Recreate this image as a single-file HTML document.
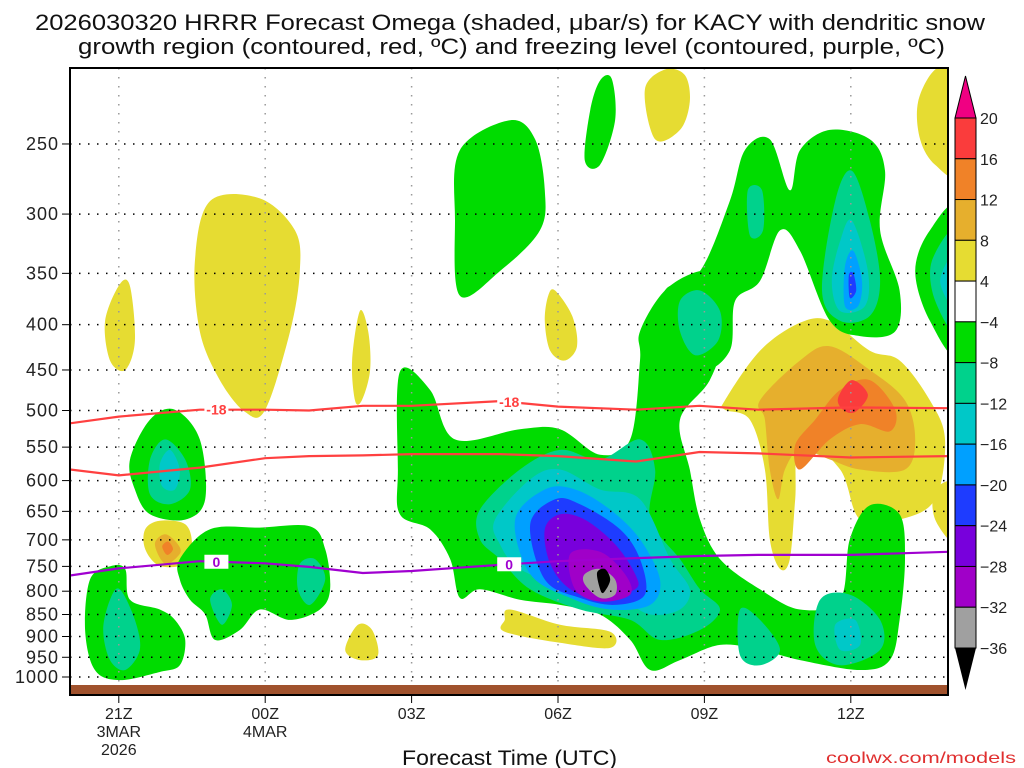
<!DOCTYPE html>
<html><head><meta charset="utf-8"><style>
body{margin:0;background:#fff;}
svg{display:block;font-family:"Liberation Sans",sans-serif;}
</style></head><body>
<svg id="chart" width="1024" height="768" viewBox="0 0 1024 768" xmlns="http://www.w3.org/2000/svg">
<rect width="1024" height="768" fill="#fff"/>
<text x="35" y="30" textLength="950" lengthAdjust="spacingAndGlyphs" font-size="22" fill="#111">2026030320 HRRR Forecast Omega (shaded, μbar/s) for KACY with dendritic snow</text>
<text x="78" y="54" textLength="867" lengthAdjust="spacingAndGlyphs" font-size="22" fill="#111">growth region (contoured, red, ºC) and freezing level (contoured, purple, ºC)</text>
<g id="fills"></g>
<g id="grid"></g>
<g id="lines"></g>
<rect x="70" y="685" width="878" height="10" fill="#a0522d"/>
<rect x="70" y="68" width="878" height="627" fill="none" stroke="#000" stroke-width="2"/>
<g id="axes"></g>
<text x="402" y="765" textLength="215" lengthAdjust="spacingAndGlyphs" font-size="21" fill="#111">Forecast Time (UTC)</text>
<text x="826" y="763" textLength="190" lengthAdjust="spacingAndGlyphs" font-size="16" fill="#e03030">coolwx.com/models</text>
<g id="cbar"></g>
</svg>
<script>
const NS="http://www.w3.org/2000/svg";
const pressureTicks=[250,300,350,400,450,500,550,600,650,700,750,800,850,900,950,1000];
const timeTickHours=[1,4,7,10,13,16];
const timeTickLabels=[["21Z","3MAR","2026"],["00Z","4MAR"],["03Z"],["06Z"],["09Z"],["12Z"]];
const cbarLevels=[20,16,12,8,4,-4,-8,-12,-16,-20,-24,-28,-32,-36];
const cbarColors=["#fa3c3c","#f08228","#e6af2d","#e6dc32","#ffffff","#00dc00","#00d28c","#00c8c8","#00a0ff","#1e3cff","#7800dc","#a000c8","#a0a0a0"];
const lineHours=[0,1,2.66,4,4.9,6,7,8.81,10,11.6,12.9,14.1,16,18];
const dgzTop=[517,508,499,499,500,494,494,488,495,499,494,499,496,497];
const dgzBottom=[583,592,580,566,563,562,560,560,563,571,557,559,565,563];
const freezingLevel=[768,754,740,744,751,763,759,747,740,734,730,728,728,722];
const yellowRegions=[
[[.72,396],[1.02,360],[1.23,362],[1.33,417],[1.13,450],[.82,439]],
[[2.56,339],[2.87,290],[3.89,288],[4.61,313],[4.71,348],[4.51,407],[4.0,499],[3.59,502],[3.07,462],[2.66,407]],
[[5.78,439],[5.94,386],[6.11,407],[6.15,450],[5.98,487],[5.84,487]],
[[9.8,371],[9.94,366],[10.29,391],[10.39,423],[10.14,439],[9.84,428],[9.73,396]],
[[11.78,217],[12.19,206],[12.6,209],[12.7,224],[12.5,241],[11.99,247]],
[[17.38,224],[17.73,206],[18.2,206],[18.2,268],[17.73,264],[17.42,247]],
[[13.42,487],[14.14,428],[14.96,398],[15.57,396],[16.39,428],[17.0,439],[17.62,487],[17.93,539],[17.73,630],[17.0,664],[16.19,664],[15.78,583],[14.96,539],[14.86,630],[14.75,736],[14.55,755],[14.34,699],[14.24,583],[13.93,512],[13.42,499]],
[[1.54,681],[1.84,666],[2.36,672],[2.5,708],[2.36,745],[1.84,749],[1.54,717]],
[[5.64,932],[5.9,873],[6.19,885],[6.31,945],[5.94,957]],
[[8.91,862],[9.02,839],[10.04,873],[11.07,889],[11.07,927],[10.04,915],[8.91,889]],
[[17.73,614],[18.2,606],[18.2,708],[17.73,664]]];
const lightOrangeRegions=[
[[14.14,487],[14.96,439],[15.57,423],[16.39,450],[17.11,487],[17.32,539],[17.11,583],[16.19,583],[15.57,568],[14.96,554],[14.65,583],[14.51,630],[14.34,583],[14.24,512]],
[[1.74,708],[1.95,690],[2.21,708],[2.25,726],[1.95,745]]];
const orangeRegions=[
[[15.27,512],[15.78,474],[16.39,462],[16.91,499],[16.8,528],[16.19,518],[15.57,539],[14.96,583],[14.86,547]],
[[1.89,712],[2.01,703],[2.11,717],[1.99,728]]];
const redRegions=[[[15.74,484],[16.02,462],[16.35,480],[16.09,502],[15.84,499]]];
const greenRegions=[
[[6.76,452],[7.38,474],[7.89,539],[9.22,525],[10.04,525],[10.86,561],[11.48,539],[11.68,439],[11.68,407],[12.19,366],[12.91,348],[13.32,357],[13.42,407],[13.11,462],[12.5,512],[12.7,583],[12.91,664],[13.32,736],[14.14,796],[14.96,839],[15.78,818],[15.98,699],[16.39,640],[17.0,655],[17.11,736],[17.0,862],[16.8,957],[16.19,982],[14.96,957],[14.14,932],[13.32,920],[12.5,957],[11.89,982],[11.48,908],[10.86,850],[10.04,829],[9.22,818],[8.4,796],[7.99,814],[7.79,736],[7.38,681],[6.76,655],[6.72,583]],
[[12.91,348],[13.52,290],[13.83,254],[14.34,247],[14.75,282],[14.96,254],[15.57,241],[16.39,247],[16.7,268],[16.6,313],[17.0,366],[16.91,407],[16.19,412],[15.57,396],[14.96,330],[14.55,313],[14.14,357],[13.63,376],[13.52,428],[12.91,450],[12.19,407],[12.19,366]],
[[18.2,298],[18.2,428],[17.62,396],[17.32,348],[17.62,313]],
[[7.99,254],[9.02,235],[9.53,247],[9.73,282],[9.63,313],[8.81,348],[7.99,371],[7.89,305]],
[[10.86,212],[11.1,211],[11.17,235],[10.86,264],[10.55,261],[10.66,229]],
[[1.23,568],[1.64,512],[2.15,499],[2.66,539],[2.77,630],[2.36,664],[1.64,655],[1.33,614]],
[[.41,776],[.82,750],[1.13,755],[1.23,818],[1.84,839],[2.15,862],[2.36,908],[2.25,970],[1.84,987],[1.02,1008],[.51,982],[.31,885]],
[[2.25,736],[2.87,681],[3.89,678],[4.92,676],[5.23,717],[5.33,796],[5.12,839],[4.51,862],[3.89,839],[3.48,885],[2.97,908],[2.77,850],[2.46,818],[2.25,776]]];
const tealRegions=[
[[8.4,647],[9.22,583],[10.04,554],[10.86,568],[11.68,539],[11.99,583],[11.89,664],[12.5,736],[12.91,796],[13.32,839],[12.91,885],[12.09,908],[11.48,862],[10.45,839],[9.43,796],[8.81,736],[8.4,699]],
[[1.64,568],[1.95,539],[2.36,568],[2.46,614],[2.05,638],[1.64,622]],
[[.82,818],[1.02,796],[1.33,862],[1.43,932],[1.13,982],[.82,957],[.68,885]],
[[2.87,818],[3.11,796],[3.32,829],[3.11,873]],
[[4.71,745],[5.02,736],[5.23,776],[4.92,829],[4.67,796]],
[[15.37,818],[15.98,807],[16.6,862],[16.6,932],[15.78,970],[15.27,920]],
[[13.73,839],[14.14,862],[14.55,932],[14.14,970],[13.73,945]],
[[13.89,282],[14.18,282],[14.2,313],[13.93,317]],
[[15.68,290],[16.02,268],[16.39,305],[16.6,357],[16.39,391],[15.78,396],[15.41,366]],
[[12.5,376],[12.91,366],[13.32,386],[13.28,417],[12.81,433],[12.5,407]],
[[18.2,313],[18.2,407],[17.73,376],[17.66,339]]];
const cyanRegions=[
[[8.71,664],[9.43,598],[10.04,583],[10.86,614],[11.68,630],[12.3,736],[12.7,796],[12.5,839],[11.89,850],[11.27,818],[10.25,796],[9.22,755],[8.81,708]],
[[1.84,575],[2.05,554],[2.25,583],[2.15,614],[1.89,609]],
[[15.78,322],[16.02,305],[16.35,348],[16.29,381],[15.78,386],[15.61,357]],
[[15.68,873],[16.09,862],[16.19,920],[15.78,932]],
[[18.2,330],[18.2,386],[17.83,357]]];
const lightBlueRegions=[
[[9.12,664],[9.73,614],[10.35,614],[11.07,647],[11.68,699],[12.09,776],[11.89,829],[11.07,839],[10.25,814],[9.43,765]],
[[15.88,344],[16.05,330],[16.23,357],[16.15,381],[15.88,381]]];
const blueRegions=[
[[9.43,672],[9.94,630],[10.45,638],[11.27,681],[11.68,736],[11.78,807],[11.17,829],[10.45,814],[9.73,776]],
[[15.96,352],[16.05,350],[16.11,366],[15.98,373]]];
const purpleRegions=[[[9.73,681],[10.04,655],[10.55,664],[11.17,708],[11.58,765],[11.58,796],[10.86,814],[10.25,796],[9.84,745]]];
const magentaRegions=[[[10.25,726],[10.86,722],[11.37,765],[11.48,807],[10.86,822],[10.35,796]]];
const grayRegions=[[[10.55,765],[10.86,755],[11.17,776],[11.17,807],[10.86,814],[10.55,786]]];
const blackRegions=[[[10.8,763],[10.96,755],[11.07,776],[10.96,800],[10.88,800]]];

const X0=70,X1=948,PX=48.8,Y1000=677,K=384.5;
function xs(h){return X0+PX*h;}
function ys(p){return Y1000-K*Math.log(1000/p);}
function mk(tag,attrs,parent){const e=document.createElementNS(NS,tag);for(const k in attrs)e.setAttribute(k,attrs[k]);parent.appendChild(e);return e;}
function smoothPath(pts){
  const P=pts.map(d=>[xs(d[0]),ys(d[1])]);const n=P.length;let s=`M${P[0][0].toFixed(1)},${P[0][1].toFixed(1)}`;
  for(let i=0;i<n;i++){const p0=P[(i-1+n)%n],p1=P[i],p2=P[(i+1)%n],p3=P[(i+2)%n];
    const c1=[p1[0]+(p2[0]-p0[0])/6,p1[1]+(p2[1]-p0[1])/6],c2=[p2[0]-(p3[0]-p1[0])/6,p2[1]-(p3[1]-p1[1])/6];
    s+=`C${c1[0].toFixed(1)},${c1[1].toFixed(1)} ${c2[0].toFixed(1)},${c2[1].toFixed(1)} ${p2[0].toFixed(1)},${p2[1].toFixed(1)}`;}
  return s+"Z";}
const svgRoot=document.getElementById("chart");
const defsEl=mk("defs",{},svgRoot);
const clipEl=mk("clipPath",{id:"plotclip"},defsEl);mk("rect",{x:X0,y:68,width:X1-X0,height:627},clipEl);
const fillsG=document.getElementById("fills");fillsG.setAttribute("clip-path","url(#plotclip)");
const layerList=[[yellowRegions,"#e6dc32","yellow"],[lightOrangeRegions,"#e6af2d","light-orange"],[orangeRegions,"#f08228","orange"],[redRegions,"#fa3c3c","red"],[greenRegions,"#00dc00","green"],[tealRegions,"#00d28c","teal"],[cyanRegions,"#00c8c8","cyan"],[lightBlueRegions,"#00a0ff","light-blue"],[blueRegions,"#1e3cff","blue"],[purpleRegions,"#7800dc","purple"],[magentaRegions,"#a000c8","magenta"],[grayRegions,"#a0a0a0","gray"],[blackRegions,"#000000","black"]];
layerList.forEach(L=>{L[0].forEach(r=>{const el=mk("path",{d:smoothPath(r),fill:L[1]},fillsG);
  
  });});
const gridG=document.getElementById("grid");
pressureTicks.forEach(p=>{const el=mk("line",{x1:X0,x2:X1,y1:ys(p),y2:ys(p),stroke:"#000","stroke-width":1.5,"stroke-dasharray":"1.5,7.5"},gridG);
  
  });
timeTickHours.forEach(h=>{const el=mk("line",{x1:xs(h),x2:xs(h),y1:68,y2:695,stroke:"#999","stroke-width":1.5,"stroke-dasharray":"1.5,7.5"},gridG);
  
  });
const linesG=document.getElementById("lines");linesG.setAttribute("clip-path","url(#plotclip)");
function linePath(vals){return vals.map((v,i)=>(i?"L":"M")+xs(lineHours[i]).toFixed(1)+","+ys(v).toFixed(1)).join("");}
[[dgzTop,"#ff4040","dgz-minus18-line"],[dgzBottom,"#ff4040","dgz-minus12-line"],[freezingLevel,"#a000d0","freezing-level-line"]].forEach(L=>{
  const el=mk("path",{d:linePath(L[0]),fill:"none",stroke:L[1],"stroke-width":2.2,"stroke-linejoin":"round"},linesG);
  
  });
function lab(txt,h,series,col,name){const i=lineHours.findIndex(v=>v>=h);const y=ys(series[i-1]+(series[i]-series[i-1])*(h-lineHours[i-1])/(lineHours[i]-lineHours[i-1]));
  mk("rect",{x:xs(h)-12,y:y-7,width:24,height:14,fill:"#fff"},linesG);
  const t=mk("text",{x:xs(h),y:y+5,"text-anchor":"middle","font-size":14,"font-weight":"bold",fill:col},linesG);t.textContent=txt;
  
  }
lab("-18",3.0,dgzTop,"#ff4040","contour-label-minus18");lab("-18",9.0,dgzTop,"#ff4040","contour-label-minus18");
lab("0",3.0,freezingLevel,"#a000d0","contour-label-zero");lab("0",9.0,freezingLevel,"#a000d0","contour-label-zero");
const axesG=document.getElementById("axes");
pressureTicks.forEach(p=>{mk("line",{x1:62,x2:70,y1:ys(p),y2:ys(p),stroke:"#000","stroke-width":1},axesG);
  const t=mk("text",{x:59,y:ys(p)+6,"text-anchor":"end","font-size":18,"letter-spacing":1,fill:"#222"},axesG);t.textContent=p;
  
  });
timeTickHours.forEach((h,i)=>{mk("line",{x1:xs(h),x2:xs(h),y1:695,y2:703,stroke:"#000","stroke-width":1},axesG);
  timeTickLabels[i].forEach((s,j)=>{const t=mk("text",{x:xs(h),y:719+j*18,"text-anchor":"middle","font-size":16,fill:"#222"},axesG);t.textContent=s;
  
  });});
const cbG=document.getElementById("cbar");const CB0=118,CBH=(648-118)/cbarColors.length,CX=955,CW=21;
const cbTop=mk("path",{d:`M${CX},${CB0}L${CX+CW/2},76L${CX+CW},${CB0}Z`,fill:"#f00082",stroke:"#000","stroke-width":1},cbG);


cbarColors.forEach((c,i)=>{const r=mk("rect",{x:CX,y:CB0+i*CBH,width:CW,height:CBH,fill:c,stroke:"#000","stroke-width":1},cbG);
  
  });
const cbBot=mk("path",{d:`M${CX},648L${CX+CW/2},690L${CX+CW},648Z`,fill:"#000"},cbG);


cbarLevels.forEach((v,i)=>{const t=mk("text",{x:980,y:CB0+i*CBH+6,"font-size":16,fill:"#222"},cbG);t.textContent=v<0?"−"+(-v):String(v);
  
  });
</script>
</body></html>
